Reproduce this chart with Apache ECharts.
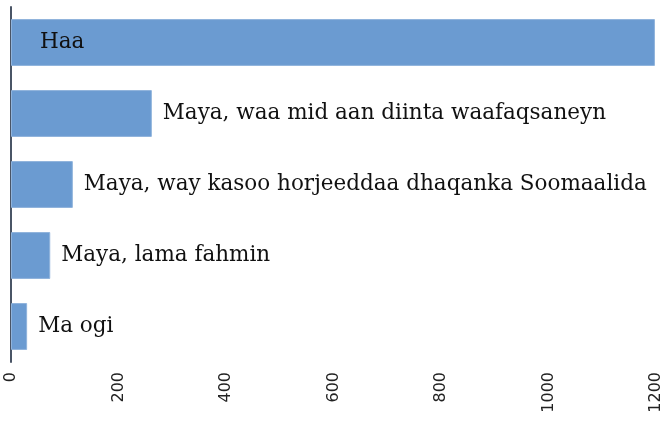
<!DOCTYPE html>
<html>
<head>
<meta charset="utf-8">
<script src="https://cdn.jsdelivr.net/npm/echarts@6/dist/echarts.min.js"></script>
<style>
    html, body { margin: 0; padding: 0; background: #fff; }
    #bar-table { width: 669px; height: 421px; }
</style>
</head>
<body>
<div id="bar-table"></div>
<script>
    // categories from bottom to top (category axis starts at the bottom)
    const categories = [
        'Ma ogi',
        'Maya, lama fahmin',
        'Maya, way kasoo horjeeddaa dhaqanka Soomaalida',
        'Maya, waa mid aan diinta waafaqsaneyn',
        'Haa'
    ]
    const values = [30, 73, 115, 262, 1198]
    const xTicks = [0, 200, 400, 600, 800, 1000, 1200]

    const myChart = echarts.init(document.getElementById('bar-table'), null, { renderer: 'canvas' })

    const seriesData = values.map((v, i) => {
        const item = { value: v }
        if (i === values.length - 1) {
            // the big bar carries its label inside
            item.label = { position: 'insideLeft', distance: 29 }
        }
        return item
    })

    myChart.setOption({
        animation: false,
        grid: {
            left: 11,
            right: 13,
            top: 7,
            bottom: 59,
            containLabel: false
        },
        xAxis: {
            type: 'value',
            min: xTicks[0],
            max: xTicks[xTicks.length - 1],
            interval: 200,
            axisLine: { show: false },
            axisTick: { show: false },
            splitLine: { show: false },
            axisLabel: {
                rotate: 90,
                margin: 10,
                color: '#222',
                fontFamily: 'DejaVu Sans',
                fontSize: 16,
                formatter: (v) => String(v)
            }
        },
        yAxis: {
            type: 'category',
            data: categories,
            axisLine: { show: true, lineStyle: { color: '#4a5566', width: 2 } },
            axisTick: { show: false },
            axisLabel: { show: false }
        },
        series: [{
            type: 'bar',
            data: seriesData,
            barCategoryGap: '34%',
            itemStyle: {
                color: '#6b9bd1',
                borderColor: '#8fb3dc',
                borderWidth: 1
            },
            label: {
                show: true,
                position: 'right',
                distance: 11,
                formatter: (p) => p.name,
                color: '#111',
                fontFamily: 'DejaVu Serif',
                fontSize: 21.5
            }
        }]
    })
</script>
</body>
</html>
